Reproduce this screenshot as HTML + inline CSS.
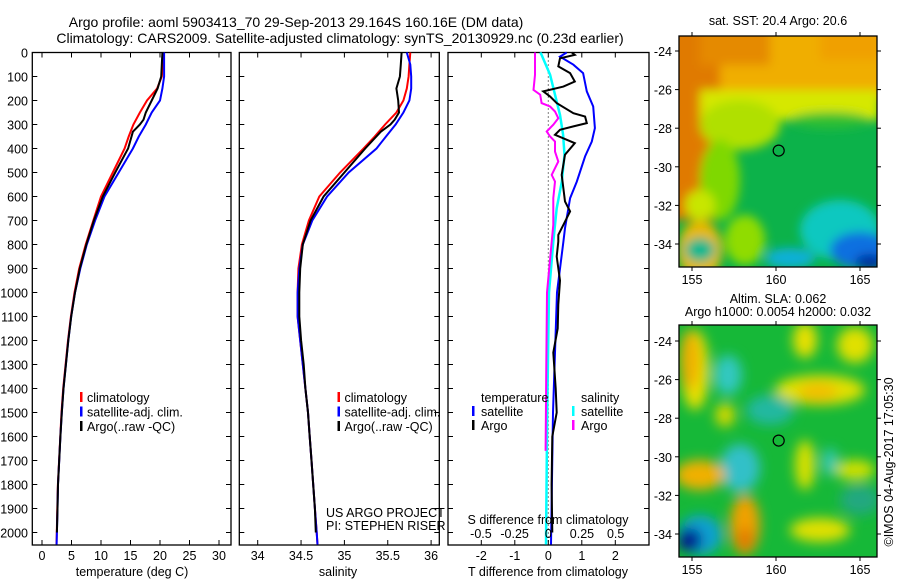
<!DOCTYPE html>
<html><head><meta charset="utf-8">
<style>
html,body{margin:0;padding:0;background:#fff;}
svg{display:block;font-family:"Liberation Sans",sans-serif;}
text{font-size:12.5px;fill:#000;}
</style></head>
<body>
<svg id="fig" width="900" height="580" viewBox="0 0 900 580" xmlns="http://www.w3.org/2000/svg">
<defs>
<filter id="blur1" x="-50%" y="-50%" width="200%" height="200%"><feGaussianBlur stdDeviation="5"/></filter>
<filter id="blur2" x="-50%" y="-50%" width="200%" height="200%"><feGaussianBlur stdDeviation="6"/></filter>
<clipPath id="clipTop"><rect x="679" y="36" width="198" height="231"/></clipPath>
<clipPath id="clipBot"><rect x="679" y="325" width="198" height="232"/></clipPath>
</defs>
<text x="296" y="27" text-anchor="middle" style="font-size:14px">Argo profile: aoml 5903413_70 29-Sep-2013 29.164S 160.16E (DM data)</text>
<text x="340" y="43" text-anchor="middle" style="font-size:14px">Climatology: CARS2009. Satellite-adjusted climatology: synTS_20130929.nc (0.23d earlier)</text>
<g id="g"></g>
<text transform="translate(893,462) rotate(-90)" text-anchor="middle">©IMOS 04-Aug-2017 17:05:30</text>
</svg>
<script>
// ---- data ----
const depthT = [0,50,100,150,200,250,300,350,400,500,600,700,800,900,1000,1100,1200,1300,1400,1500,1600,1700,1800,1900,2000,2050];
const tempClim = [20.5,20.5,20.3,19.5,17.8,16.6,15.5,14.7,14.0,12.0,10.0,8.7,7.4,6.3,5.5,4.9,4.4,4.0,3.6,3.3,3.1,2.9,2.7,2.6,2.5,2.45];
const tempSat = [20.7,20.7,20.7,20.4,20.0,18.6,17.6,16.4,15.4,13.0,10.6,9.0,7.6,6.5,5.6,4.95,4.45,4.05,3.65,3.35,3.12,2.92,2.72,2.62,2.52,2.47];
const depthArgo = [0,50,100,150,200,250,280,300,330,400,500,600,700,800,900,1000,1100,1200,1300,1400,1500,1600,1700,1800,1900,2000];
const tempArgo = [20.4,20.3,20.2,19.6,18.6,17.6,17.2,16.6,15.4,14.6,12.4,10.3,8.8,7.5,6.4,5.6,4.95,4.45,4.05,3.65,3.35,3.12,2.92,2.72,2.62,2.52];
const salClim = [35.76,35.75,35.74,35.72,35.68,35.6,35.47,35.35,35.22,34.95,34.71,34.59,34.51,34.47,34.46,34.46,34.49,34.52,34.55,34.58,34.6,34.62,34.64,34.66,34.68,34.69];
const salSat = [35.72,35.76,35.77,35.77,35.75,35.68,35.59,35.48,35.37,35.05,34.8,34.63,34.52,34.48,34.46,34.46,34.49,34.52,34.55,34.58,34.6,34.62,34.64,34.66,34.68,34.69];
const salArgo = [35.66,35.65,35.64,35.6,35.62,35.63,35.58,35.53,35.42,35.24,35.0,34.76,34.61,34.52,34.49,34.48,34.48,34.5,34.53,34.55,34.58,34.6,34.62,34.64,34.66,34.67];
// differences
const depthDTsat = [0,17,51,86,162,225,315,371,433,538,607,732,788,1000,1500,2050];
const dTsat = [0.55,0.35,0.75,1.04,1.15,1.34,1.39,1.3,1.1,0.85,0.65,0.5,0.45,0.26,0.14,0.08];
const depthDTargo = [0,10,24,58,86,121,142,162,183,211,253,267,294,308,322,343,378,426,510,621,662,718,760,788,850,950,1050,1150,1250,1400,1500,1600,1800,2000];
const dTargo = [0.7,0.79,0.35,0.3,0.65,0.79,0.45,-0.15,0.05,0.25,0.75,1.1,1.15,0.75,0.35,0.2,0.79,0.5,0.4,0.5,0.65,0.45,0.3,0.3,0.25,0.35,0.3,0.28,0.15,0.22,0.25,0.12,0.1,0.12];
const depthDSargo = [0,10,93,156,176,211,225,246,274,301,329,350,371,413,454,482,510,538,607,718,788,1000,1300,1660];
const dSargo = [-0.099,-0.099,-0.099,-0.11,-0.06,-0.05,0.013,0.05,0.074,0.037,-0.012,0.013,0.05,0.05,0.074,0.05,0.025,0.05,0.037,0.037,0.025,-0.01,-0.015,-0.02];
const depthDSsat = [0,10,93,176,260,343,426,538,649,788,1000,1500,2050];
const dSsat = [-0.06,-0.05,0.013,0.05,0.087,0.11,0.12,0.1,0.062,0.037,0.005,-0.008,-0.017];
const tempTicks = [0,5,10,15,20,25,30];
const salTicks = [34,34.5,35,35.5,36];
const salTickLabels = ["34","34.5","35","35.5","36"];
const dTTicks = [-2,-1,0,1,2];
const dSTicks = [-0.5,-0.25,0,0.25,0.5];
const dSTickLabels = ["-0.5","-0.25","0","0.25","0.5"];
const depthTicks = [0,100,200,300,400,500,600,700,800,900,1000,1100,1200,1300,1400,1500,1600,1700,1800,1900,2000];
const lonTicks = [155,160,165];
const latTicks = [-24,-26,-28,-30,-32,-34];
const floatLon = 160.16, floatLat = -29.16;

// ---- axes ----
const NS="http://www.w3.org/2000/svg";
const G=document.getElementById('g');
function el(tag,attrs,parent){const e=document.createElementNS(NS,tag);for(const k in attrs)e.setAttribute(k,attrs[k]);(parent||G).appendChild(e);return e;}
const yD = d => 52.5 + d*0.24;
const xTemp = v => 42 + v*5.9;
const xSal = v => 257.7 + (v-34)*86.7;
const xDT = v => 548.3 + v*33.5;
const xDS = v => 548.3 + v*134.7;
const TOPY=52.5, BOTY=545;

function frame(x0,x1,name){
  const r=el('rect',{x:x0,y:TOPY,width:x1-x0,height:BOTY-TOPY,fill:'none',stroke:'#000','stroke-width':1.3});
  
  
  depthTicks.forEach(d=>{
    el('line',{x1:x0,x2:x0+5,y1:yD(d),y2:yD(d),stroke:'#000'});
    el('line',{x1:x1,x2:x1-5,y1:yD(d),y2:yD(d),stroke:'#000'});
  });
}
function line(xs,ds,xf,color,name,w){
  const pts=xs.map((v,i)=>xf(v).toFixed(1)+','+yD(ds[i]).toFixed(1)).join(' ');
  const p=el('polyline',{points:pts,fill:'none',stroke:color,'stroke-width':w||2});
  
  
}
function txt(x,y,s,anchor,name){
  const t=el('text',{x:x,y:y,'text-anchor':anchor||'start'});
  t.textContent=s;
  
  
  return t;
}
function xticks(vals,labels,xf,name){
  vals.forEach((v,i)=>{
    el('line',{x1:xf(v),x2:xf(v),y1:TOPY,y2:TOPY+5,stroke:'#000'});
    el('line',{x1:xf(v),x2:xf(v),y1:BOTY,y2:BOTY-5,stroke:'#000'});
    txt(xf(v),560,labels[i],'middle',name);
  });
}
// depth labels
depthTicks.forEach(d=>txt(28,yD(d)+5,String(d),'end','depth-tick-label'));

// panel 1
frame(32.3,231,'temperature-panel');
xticks(tempTicks,tempTicks.map(String),xTemp,'temperature-tick-label');
line(tempClim,depthT,xTemp,'#f00','temp-climatology-line');
line(tempSat,depthT,xTemp,'#00f','temp-satellite-line');
line(tempArgo,depthArgo,xTemp,'#000','temp-argo-line');
txt(132,576,'temperature (deg C)','middle','temperature-axis-title');
function legend(x,y,name){
  [['#f00','climatology'],['#00f','satellite-adj. clim.'],['#000','Argo(..raw -QC)']].forEach((e,i)=>{
    el('rect',{x:x,y:y+i*14.5-10,width:2.5,height:10,fill:e[0]});
    txt(x+7,y+i*14.5,e[1],'start',name);
  });
}
legend(80,402,'temperature-legend-entry');

// panel 2
frame(239.3,439.3,'salinity-panel');
xticks(salTicks,salTickLabels,xSal,'salinity-tick-label');
line(salClim,depthT,xSal,'#f00','sal-climatology-line');
line(salSat,depthT,xSal,'#00f','sal-satellite-line');
line(salArgo,depthArgo,xSal,'#000','sal-argo-line');
txt(338,576,'salinity','middle','salinity-axis-title');
legend(337.5,402,'salinity-legend-entry');
txt(326,517,'US ARGO PROJECT','start','project-label');
txt(326,530,'PI: STEPHEN RISER','start','pi-label');

// panel 3
frame(448,649,'difference-panel');
xticks(dTTicks,dTTicks.map(String),xDT,'t-diff-tick-label');
el('line',{x1:xDT(0),x2:xDT(0),y1:TOPY,y2:BOTY,stroke:'#000','stroke-dasharray':'1,3'});
line(dSsat,depthDSsat,xDS,'#0ff','s-diff-satellite-line',2.5);
line(dSargo,depthDSargo,xDS,'#f0f','s-diff-argo-line');
line(dTsat,depthDTsat,xDT,'#00f','t-diff-satellite-line');
line(dTargo,depthDTargo,xDT,'#000','t-diff-argo-line');
txt(481,402,'temperature','start','legend-title-temperature');
txt(581,402,'salinity','start','legend-title-salinity');
[['#00f','satellite',472,416],['#000','Argo',472,430],['#0ff','satellite',572,416],['#f0f','Argo',572,430]].forEach(e=>{
  el('rect',{x:e[2],y:e[3]-10,width:2.5,height:10,fill:e[0]});
  txt(e[2]+9,e[3],e[1],'start','diff-legend-entry');
});
txt(548,524,'S difference from climatology','middle','s-diff-axis-title');
dSTicks.forEach((v,i)=>txt(xDS(v),538,dSTickLabels[i],'middle','s-diff-tick-label'));
txt(548,576,'T difference from climatology','middle','t-diff-axis-title');

// ---- maps ----
const lonX = l => 692 + (l-155)*16.8;
function mapAxes(y0,y1,latY,name){
  const r=el('rect',{x:679,y:y0,width:198,height:y1-y0,fill:'none',stroke:'#000','stroke-width':1.3});
  
  
  lonTicks.forEach(l=>{
    el('line',{x1:lonX(l),x2:lonX(l),y1:y0,y2:y0-4,stroke:'#000'});
    el('line',{x1:lonX(l),x2:lonX(l),y1:y1,y2:y1+4,stroke:'#000'});
    txt(lonX(l),y1+17,String(l),'middle','map-lon-label');
  });
  latTicks.forEach(l=>{
    el('line',{x1:679,x2:675,y1:latY(l),y2:latY(l),stroke:'#000'});
    el('line',{x1:877,x2:881,y1:latY(l),y2:latY(l),stroke:'#000'});
    txt(672,latY(l)+5,String(l),'end','map-lat-label');
  });
  const c=el('circle',{cx:lonX(floatLon),cy:latY(floatLat),r:5.5,fill:'none',stroke:'#000','stroke-width':1.2});
  
  
}
// top SST map
const latYT = l => 51 + (-24-l)*19.3;
const gT=el('g',{'clip-path':'url(#clipTop)'});


el('rect',{x:679,y:36,width:198,height:231,fill:'#0cb24a'},gT);
const bt=el('g',{filter:'url(#blur1)'},gT);
[
 ['rect',{x:660,y:20,width:240,height:80,fill:'#f0ae00'}],
 ['rect',{x:660,y:20,width:60,height:200,fill:'#e07a00'}],
 ['rect',{x:700,y:20,width:70,height:45,fill:'#e58a00'}],
 ['rect',{x:820,y:20,width:60,height:40,fill:'#f0a000'}],
 ['ellipse',{cx:700,cy:250,rx:22,ry:30,fill:'#e8b800'}],
 ['rect',{x:700,y:90,width:180,height:30,fill:'#d6e800'}],
 ['ellipse',{cx:740,cy:125,rx:40,ry:25,fill:'#b0e000'}],
 ['ellipse',{cx:720,cy:180,rx:20,ry:40,fill:'#7fd800'}],
 ['ellipse',{cx:700,cy:205,rx:15,ry:15,fill:'#c8e600'}],
 ['ellipse',{cx:745,cy:240,rx:20,ry:25,fill:'#90dc00'}],
 ['ellipse',{cx:830,cy:120,rx:40,ry:8,fill:'#30c030'}],
 ['ellipse',{cx:840,cy:230,rx:40,ry:30,fill:'#10c8c0'}],
 ['ellipse',{cx:860,cy:250,rx:30,ry:18,fill:'#1070e0'}],
 ['ellipse',{cx:790,cy:258,rx:25,ry:10,fill:'#10b0d8'}],
 ['ellipse',{cx:700,cy:250,rx:15,ry:12,fill:'#10b890'}],
 ['ellipse',{cx:870,cy:262,rx:15,ry:8,fill:'#0030a0'}]
].forEach(s=>el(s[0],s[1],bt));
mapAxes(36,267,latYT,'sst-map-frame');
txt(778,25,'sat. SST: 20.4  Argo: 20.6','middle','sst-map-title');

// bottom SLA map
const latYB = l => 341 + (-24-l)*19.3;
const gB=el('g',{'clip-path':'url(#clipBot)'});


el('rect',{x:679,y:325,width:198,height:232,fill:'#16b838'},gB);
const bb=el('g',{filter:'url(#blur2)'},gB);
[
 ['ellipse',{cx:695,cy:370,rx:14,ry:40,fill:'#e8e000'}],
 ['ellipse',{cx:690,cy:360,rx:10,ry:30,fill:'#f0b000'}],
 ['ellipse',{cx:805,cy:340,rx:12,ry:18,fill:'#e8e000'}],
 ['ellipse',{cx:855,cy:345,rx:18,ry:18,fill:'#e0e000'}],
 ['ellipse',{cx:820,cy:390,rx:45,ry:15,fill:'#e0e000'}],
 ['ellipse',{cx:818,cy:392,rx:20,ry:10,fill:'#f0c000'}],
 ['ellipse',{cx:728,cy:375,rx:14,ry:20,fill:'#30c8c0'}],
 ['ellipse',{cx:770,cy:410,rx:24,ry:15,fill:'#20b8a0'}],
 ['ellipse',{cx:725,cy:415,rx:10,ry:12,fill:'#d0d800'}],
 ['ellipse',{cx:740,cy:468,rx:20,ry:24,fill:'#30c0c8'}],
 ['ellipse',{cx:805,cy:465,rx:10,ry:25,fill:'#d8e000'}],
 ['ellipse',{cx:830,cy:462,rx:8,ry:14,fill:'#30c8b0'}],
 ['ellipse',{cx:860,cy:500,rx:20,ry:15,fill:'#20a880'}],
 ['ellipse',{cx:855,cy:470,rx:20,ry:10,fill:'#d0e000'}],
 ['ellipse',{cx:700,cy:475,rx:25,ry:15,fill:'#f0b000'}],
 ['ellipse',{cx:745,cy:525,rx:15,ry:30,fill:'#f0a000'}],
 ['ellipse',{cx:745,cy:540,rx:8,ry:12,fill:'#e07800'}],
 ['ellipse',{cx:700,cy:535,rx:22,ry:20,fill:'#10a0d0'}],
 ['ellipse',{cx:690,cy:540,rx:12,ry:12,fill:'#001890'}],
 ['ellipse',{cx:820,cy:530,rx:30,ry:12,fill:'#e0e000'}]
].forEach(s=>el(s[0],s[1],bb));
mapAxes(325,557,latYB,'sla-map-frame');
txt(778,303,'Altim. SLA: 0.062','middle','sla-map-title-1');
txt(778,316,'Argo h1000: 0.0054  h2000: 0.032','middle','sla-map-title-2');
</script>
</body></html>
